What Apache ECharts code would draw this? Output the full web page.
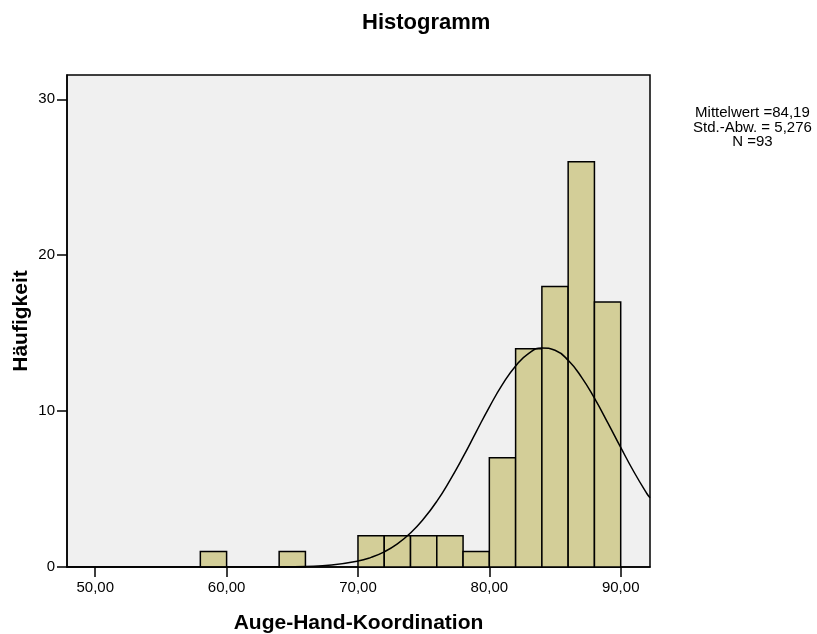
<!DOCTYPE html>
<html><head><meta charset="utf-8">
<script src="https://cdn.jsdelivr.net/npm/echarts@6/dist/echarts.min.js"></script>
<style>html,body{margin:0;padding:0;background:#fff}#c{width:817px;height:634px}</style>
</head><body><div id="c"></div>
<script>
// Histogram bins: [start, end]
const binStarts = [58, 64, 70, 72, 74, 76, 78, 80, 82, 84, 86, 88];
const binWidth = 2;
const counts = [1, 1, 2, 2, 2, 2, 1, 7, 14, 18, 26, 17];
const xTicks = [50, 60, 70, 80, 90];
const yTicks = [0, 10, 20, 30];
// normal curve points
const curveX = [47.85, 60, 64, 66, 68, 70, 71, 72, 73, 74, 75, 76, 77, 78, 79, 80, 81, 82, 83, 84, 85, 86, 87, 88, 89, 90, 91, 92, 92.23];
const curveY = [0, 0, 0.01, 0.04, 0.13, 0.38, 0.62, 0.97, 1.48, 2.18, 3.09, 4.21, 5.56, 7.06, 8.67, 10.26, 11.71, 12.9, 13.71, 14.05, 13.9, 13.26, 12.2, 10.83, 9.28, 7.67, 6.11, 4.7, 4.44];
const stats = ['Mittelwert =84,19', 'Std.-Abw. = 5,276', 'N =93'];
const yName = 'Häufigkeit';

const chart = echarts.init(document.getElementById('c'), null, {renderer: 'canvas'});
const font = 'Liberation Sans, Arial, sans-serif';
const fmt = v => v.toFixed(2).replace('.', ',');
chart.setOption({
  animation: false,
  title: {text: 'Histogramm', left: 357, top: 7,
    textStyle: {fontFamily: font, fontSize: 22, fontWeight: 'bold', color: '#000'}},
  graphic: [{type: 'text', left: 693, top: 105.5, style: {
    text: stats.join('\n'), textAlign: 'center', fontFamily: font, fontSize: 15, lineHeight: 14.5, fill: '#000'}},
    {type: 'text', x: 21, y: 321, rotation: Math.PI / 2, style: {
    text: yName, textAlign: 'center', textVerticalAlign: 'middle', fontFamily: font, fontSize: 21, fontWeight: 'bold', fill: '#000'}}],
  grid: {left: 67, right: 167, top: 75, bottom: 67, outerBoundsMode: 'none', containLabel: false,
    show: true, backgroundColor: '#F0F0F0', borderColor: '#000', borderWidth: 1.5},
  xAxis: {type: 'value', min: 47.85, max: 92.23,
    name: 'Auge-Hand-Koordination', nameLocation: 'middle', nameGap: 46,
    nameTextStyle: {fontFamily: font, fontSize: 21, fontWeight: 'bold', color: '#000'},
    axisLine: {show: true, onZero: false, lineStyle: {color: '#000', width: 1.5}},
    axisTick: {show: true, length: 10, customValues: xTicks, lineStyle: {color: '#000', width: 1.5}},
    axisLabel: {customValues: xTicks, formatter: fmt, margin: 13, fontFamily: font, fontSize: 15, color: '#000'},
    splitLine: {show: false}},
  yAxis: {type: 'value', min: 0, max: 31.56,
    axisLine: {show: true, lineStyle: {color: '#000', width: 1.5}},
    axisTick: {show: true, length: 10, customValues: yTicks, lineStyle: {color: '#000', width: 1.5}},
    axisLabel: {customValues: yTicks, margin: 12, fontFamily: font, fontSize: 15, color: '#000'},
    splitLine: {show: false}},
  series: [{
    type: 'custom',
    data: binStarts.map((s, i) => [s, s + binWidth, counts[i]]),
    encode: {x: [0, 1], y: 2},
    renderItem: (params, api) => {
      const p0 = api.coord([api.value(0), 0]);
      const p1 = api.coord([api.value(1), api.value(2)]);
      return {type: 'rect', shape: {x: p0[0], y: p1[1], width: p1[0] - p0[0], height: p0[1] - p1[1]},
        style: {fill: '#D3CE98', stroke: '#000', lineWidth: 1.5}};
    }
  }, {
    type: 'line', smooth: true, showSymbol: false, clip: true,
    data: curveX.map((x, i) => [x, curveY[i]]),
    lineStyle: {color: '#000', width: 1.5}, z: 5
  }]
});
</script></body></html>
